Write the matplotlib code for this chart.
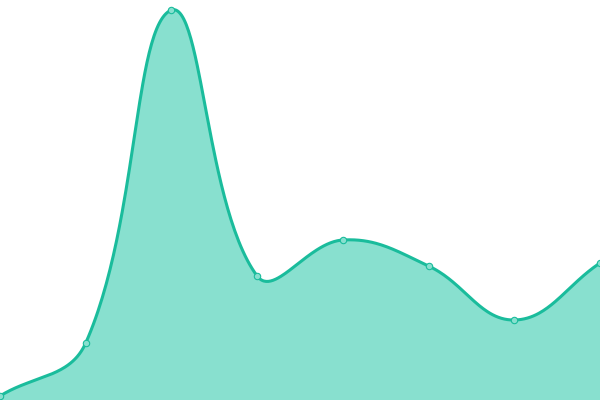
import numpy as np
import matplotlib
matplotlib.use('Agg')
import matplotlib.pyplot as plt

# values (axis runs 0..400)
x_idx = [0, 1, 2, 3, 4, 5, 6, 7]
values = [4, 57, 390, 124, 160, 134, 80, 137]

line_color = '#1abc9c'
fill_color = '#88e0cf'
tension = 0.4


def bezier_path(pts, lo, hi, t=0.4, n=60):
    # distance-weighted spline through the points (in pixel space),
    # control points kept inside the plot area
    pts = np.asarray(pts, dtype=float)
    k = len(pts)
    cp_prev = pts.copy()
    cp_next = pts.copy()
    for i in range(k):
        prev = pts[max(i - 1, 0)]
        nxt = pts[min(i + 1, k - 1)]
        cur = pts[i]
        d01 = np.hypot(*(cur - prev))
        d12 = np.hypot(*(nxt - cur))
        tot = d01 + d12
        s01 = d01 / tot if tot else 0
        s12 = d12 / tot if tot else 0
        cp_prev[i] = cur - t * s01 * (nxt - prev)
        cp_next[i] = cur + t * s12 * (nxt - prev)
    cp_prev = np.clip(cp_prev, lo, hi)
    cp_next = np.clip(cp_next, lo, hi)
    out = []
    s = np.linspace(0, 1, n)[:, None]
    for i in range(k - 1):
        p0, p1, p2, p3 = pts[i], cp_next[i], cp_prev[i + 1], pts[i + 1]
        seg = ((1 - s) ** 3 * p0 + 3 * (1 - s) ** 2 * s * p1
               + 3 * (1 - s) * s ** 2 * p2 + s ** 3 * p3)
        out.append(seg)
    return np.vstack(out)


fig = plt.figure(figsize=(6, 4), dpi=100)
ax = fig.add_axes([0, 0, 1, 1])
ax.set_xlim(0, 7)
ax.set_ylim(0, 400)
ax.axis('off')

pix = ax.transData.transform(np.column_stack([x_idx, values]))
bbox = ax.bbox
curve_pix = bezier_path(pix, [bbox.x0, bbox.y0], [bbox.x1, bbox.y1], tension)
curve = ax.transData.inverted().transform(curve_pix)
sx, sy = curve[:, 0], curve[:, 1]

ax.fill_between(sx, 0, sy, color=fill_color, linewidth=0)
ax.plot(sx, sy, color=line_color, linewidth=2.2, solid_capstyle='round')
ax.plot(x_idx, values, 'o', markersize=4.6, markerfacecolor=fill_color,
        markeredgecolor=line_color, markeredgewidth=0.8)
fig.savefig('out.png', dpi=100)
